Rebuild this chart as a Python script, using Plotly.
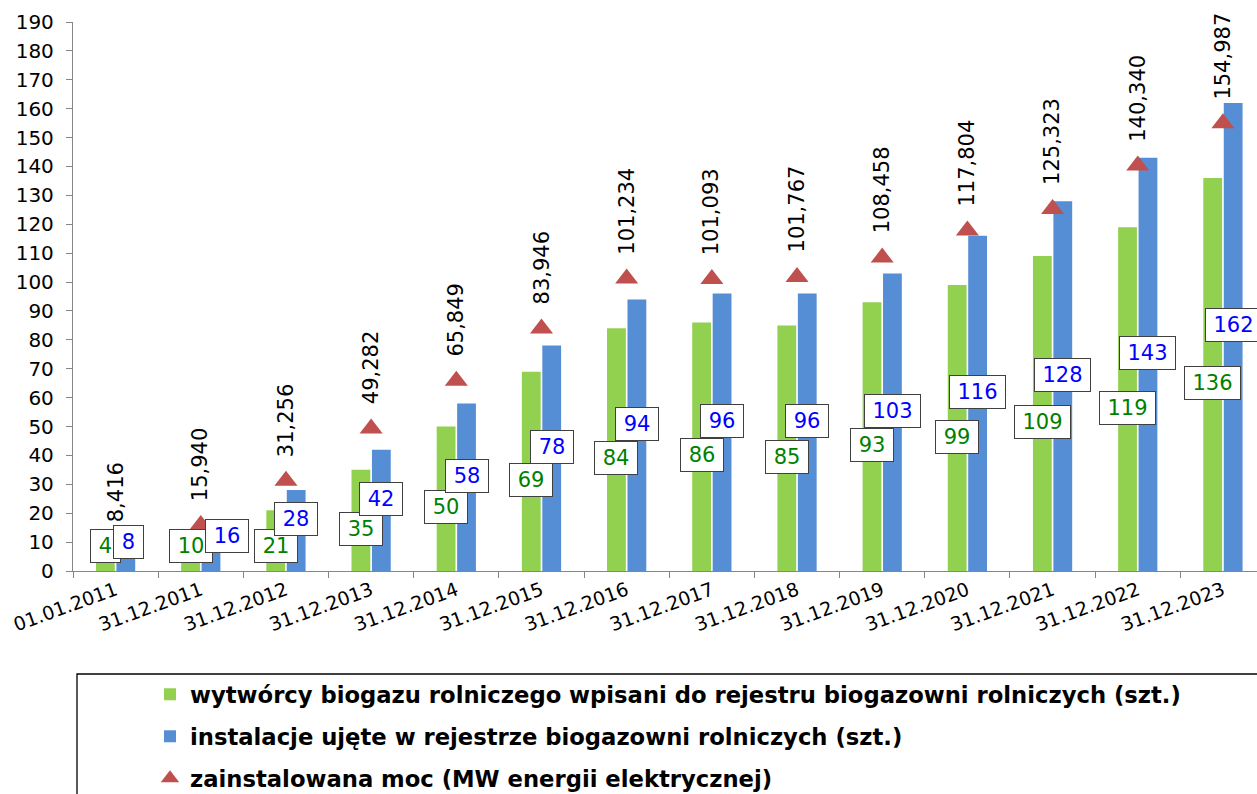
import plotly.graph_objects as go

# ---------------- data ----------------
dates = ["01.01.2011", "31.12.2011", "31.12.2012", "31.12.2013", "31.12.2014",
         "31.12.2015", "31.12.2016", "31.12.2017", "31.12.2018", "31.12.2019",
         "31.12.2020", "31.12.2021", "31.12.2022", "31.12.2023"]
producers = [4, 10, 21, 35, 50, 69, 84, 86, 85, 93, 99, 109, 119, 136]
installations = [8, 16, 28, 42, 58, 78, 94, 96, 96, 103, 116, 128, 143, 162]
power_mw = [8.416, 15.940, 31.256, 49.282, 65.849, 83.946, 101.234, 101.093,
            101.767, 108.458, 117.804, 125.323, 140.340, 154.987]

name_producers = "wytwórcy biogazu rolniczego wpisani do rejestru biogazowni rolniczych (szt.)"
name_install = "instalacje ujęte w rejestrze biogazowni rolniczych (szt.)"
name_power = "zainstalowana moc (MW energii elektrycznej)"

# ---------------- style ----------------
W, H = 1257, 794
ML, MR, MT, MB = 73, 0, 22, 223
FONT = "DejaVu Sans"
GREEN, BLUE, RED = "#92D050", "#558ED5", "#C0504D"
AXIS = "#868686"
BARGAP = 0.52
YMAX = 190
XRANGE = [-0.5, 13.4]

plot_h = H - MT - MB
plot_w = W - ML - MR
cat_px = plot_w / (XRANGE[1] - XRANGE[0])
unit_px = plot_h / YMAX


def py(px):
    """pixel y (from top) -> paper y"""
    return (H - MB - px) / plot_h


def pxx(px):
    """pixel x (from left) -> paper x"""
    return (px - ML) / plot_w


def box_w(txt):
    return 13 * len(txt) + 10


idx = list(range(len(dates)))

fig = go.Figure()
fig.add_trace(go.Bar(x=dates, y=producers, name=name_producers, marker_color=GREEN,
                     marker_line_width=0, legendgroup="a"))
fig.add_trace(go.Bar(x=dates, y=installations, name=name_install, marker_color=BLUE,
                     marker_line_width=0, legendgroup="b"))
# soft drop shadow under the triangles (offset a few pixels down-right)
fig.add_trace(go.Scatter(x=[i + 3 / cat_px for i in idx], y=[v - 3 / unit_px for v in power_mw],
                         mode="markers", showlegend=False, hoverinfo="skip",
                         marker=dict(symbol="triangle-up", size=23, color="rgba(0,0,0,0.13)")))
fig.add_trace(go.Scatter(x=dates, y=power_mw, name=name_power, mode="markers",
                         marker=dict(symbol="triangle-up", size=20, color=RED),
                         legendgroup="c"))

annotations = []
half = (1 - BARGAP) / 4
sep_px = 2 * half * cat_px
for i, (g, b, p) in enumerate(zip(producers, installations, power_mw)):
    yg = max(g / 2 - 3, 8.6)
    yb = max(b / 2 + 4, 10)
    # nudge the blue label right when the two boxes would sit on top of each other
    shift = 0
    if (yb - yg) * unit_px < 17:
        overlap = (box_w(str(g)) + box_w(str(b))) / 2 + 8 - sep_px
        shift = max(0, overlap - 8)
    for val, off, col, yy, xs in ((g, -half, "#008000", yg, 0), (b, half, "#0000FF", yb, shift)):
        txt = str(val)
        annotations.append(dict(
            x=i + off, y=yy, xref="x", yref="y", text=txt, xshift=xs,
            showarrow=False, font=dict(family=FONT, size=21, color=col),
            bgcolor="white", bordercolor="#404040", borderwidth=1, borderpad=3,
            width=box_w(txt), height=26, align="center"))
    annotations.append(dict(
        x=i, y=p, xref="x", yref="y", text=f"{p:.3f}".replace(".", ","),
        showarrow=False, textangle=-90, yanchor="bottom", yshift=22,
        font=dict(family=FONT, size=21, color="black")))

fig.update_layout(
    width=W, height=H,
    margin=dict(l=ML, r=MR, t=MT, b=MB, autoexpand=False),
    paper_bgcolor="white", plot_bgcolor="white",
    barmode="group", bargap=BARGAP, bargroupgap=0.08,
    font=dict(family=FONT, color="black"),
    showlegend=True,
    legend=dict(x=pxx(150), xanchor="left", y=py(673), yanchor="top",
                font=dict(family=FONT, size=22.7, color="black", weight="bold"),
                tracegroupgap=9.5, traceorder="grouped", bgcolor="rgba(0,0,0,0)"),
    annotations=annotations,
    shapes=[dict(type="rect", xref="paper", yref="paper", x0=pxx(77), x1=1.2,
                 y0=py(674), y1=py(900), line=dict(color="black", width=1.3))],
)
fig.update_xaxes(range=XRANGE, showline=True, linecolor=AXIS, linewidth=1.3,
                 ticks="outside", ticklen=6, tickcolor=AXIS, tickson="boundaries",
                 tickangle=-20, tickfont=dict(family=FONT, size=19, color="black"),
                 showgrid=False, zeroline=False)
fig.update_yaxes(range=[0, YMAX], dtick=10, showline=True, linecolor=AXIS, linewidth=1.3,
                 ticks="outside", ticklen=6, tickcolor=AXIS, ticklabelstandoff=8,
                 tickfont=dict(family=FONT, size=20, color="black"),
                 showgrid=False, zeroline=False)

fig.write_html("out.html", config={"displayModeBar": False},
               post_script="document.body.style.margin='0px';"
                           "document.body.style.overflow='hidden';")
